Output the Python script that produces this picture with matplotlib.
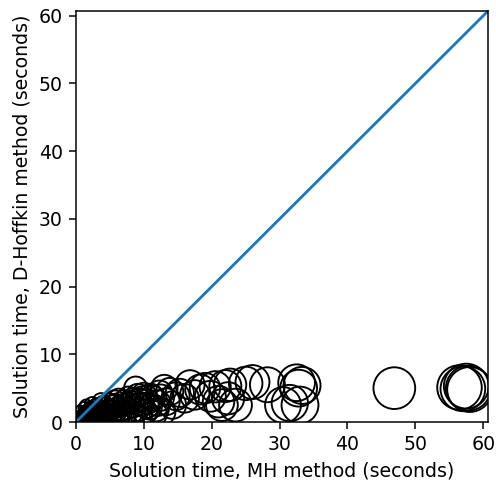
import matplotlib
matplotlib.use("Agg")
import matplotlib.pyplot as plt
import numpy as np

# solution times (seconds)
mh_time = [0.1, 0.2, 0.3, 0.4, 0.5, 0.6, 0.7, 0.8, 0.9, 1.0, 1.1, 1.2, 1.3, 1.4, 1.5,
           1.6, 1.7, 1.8, 1.9, 2.0, 2.1, 2.2, 2.3, 2.5, 2.6, 2.8, 2.9, 3.0, 3.2, 3.3,
           3.4, 3.6, 3.8, 3.9, 4.0, 4.2, 4.4, 4.5, 4.7, 4.9, 5.0, 5.3, 5.5, 5.6, 5.9,
           6.2, 6.4, 6.5, 6.8, 7.0, 7.3, 7.6, 7.9, 8.0, 8.2, 8.5, 8.8, 9.0, 9.3, 9.6,
           0.3, 0.6, 0.9, 1.2, 1.5, 1.9, 2.4, 2.7, 3.1, 3.5, 4.1, 4.6, 5.2, 5.8, 6.6,
           7.2, 7.8, 8.6, 9.4, 10.4,
           3.7, 4.8, 5.7, 6.3, 7.1, 7.7, 8.3, 9.1, 9.8, 11.0, 11.8, 12.5,
           10.0, 10.2, 10.5, 10.8, 11.2, 11.5, 12.0, 12.3, 12.7, 13.0, 13.3, 13.8, 14.2,
           14.7, 15.3, 16.0, 16.8, 17.5, 18.3, 19.0, 19.8, 20.5, 21.0, 21.5, 22.0, 22.4,
           22.7, 23.5, 25.0, 26.0, 28.2, 30.5, 31.5, 32.5, 32.8, 33.0, 33.3,
           46.9, 56.5, 57.0, 57.5, 57.8, 58.0]
dh_time = [0.1, 0.3, 0.2, 0.4, 0.6, 0.3, 0.8, 0.5, 1.0, 0.7, 0.3, 1.2, 0.9, 1.5, 0.5,
           1.3, 0.8, 1.7, 1.1, 1.5, 0.5, 2.0, 1.2, 1.8, 0.8, 1.4, 2.2, 1.0, 1.6, 0.5,
           2.0, 1.2, 1.9, 0.7, 1.0, 1.5, 2.3, 0.8, 1.3, 2.0, 1.7, 1.1, 2.5, 2.0, 1.4,
           2.2, 0.9, 1.0, 1.8, 2.5, 1.3, 2.0, 3.0, 3.0, 1.5, 2.4, 5.0, 1.8, 3.2, 2.6,
           1.1, 1.8, 0.6, 2.1, 2.4, 0.4, 2.6, 1.0, 2.3, 0.9, 2.6, 1.8, 0.6, 2.7, 1.6,
           0.9, 2.7, 1.2, 0.8, 2.4,
           3.0, 2.9, 3.2, 3.4, 3.1, 3.6, 3.3, 3.9, 3.5, 3.8, 2.0, 3.6,
           4.0, 1.5, 3.0, 2.2, 3.5, 1.2, 2.8, 4.2, 1.5, 5.0, 3.0, 4.5, 2.5,
           3.8, 4.3, 3.5, 5.5, 4.0, 4.8, 5.0, 3.8, 5.2, 3.0, 2.5, 5.3, 3.5,
           5.5, 2.5, 5.7, 5.9, 5.5, 2.5, 2.8, 5.8, 5.0, 2.5, 5.4,
           5.0, 5.1, 4.9, 5.3, 5.0, 4.8]

fig = plt.figure(figsize=(496/136, 482/136), dpi=136)
ax = fig.add_axes([76/496, 60/482, 412/496, 411/482])

sizes = 33 * np.array(mh_time) ** 0.7
ax.scatter(mh_time, dh_time, s=sizes, facecolors='none', edgecolors='black')
ax.plot([0, 61], [0, 61], color='C0')

ax.set_xlim(0, 60.7)
ax.set_ylim(0, 60.7)
ax.set_xticks(range(0, 61, 10))
ax.set_yticks(range(0, 61, 10))
ax.set_xlabel("Solution time, MH method (seconds)")
ax.set_ylabel("Solution time, D-Hoffkin method (seconds)")

fig.savefig("out.png", dpi=136)
